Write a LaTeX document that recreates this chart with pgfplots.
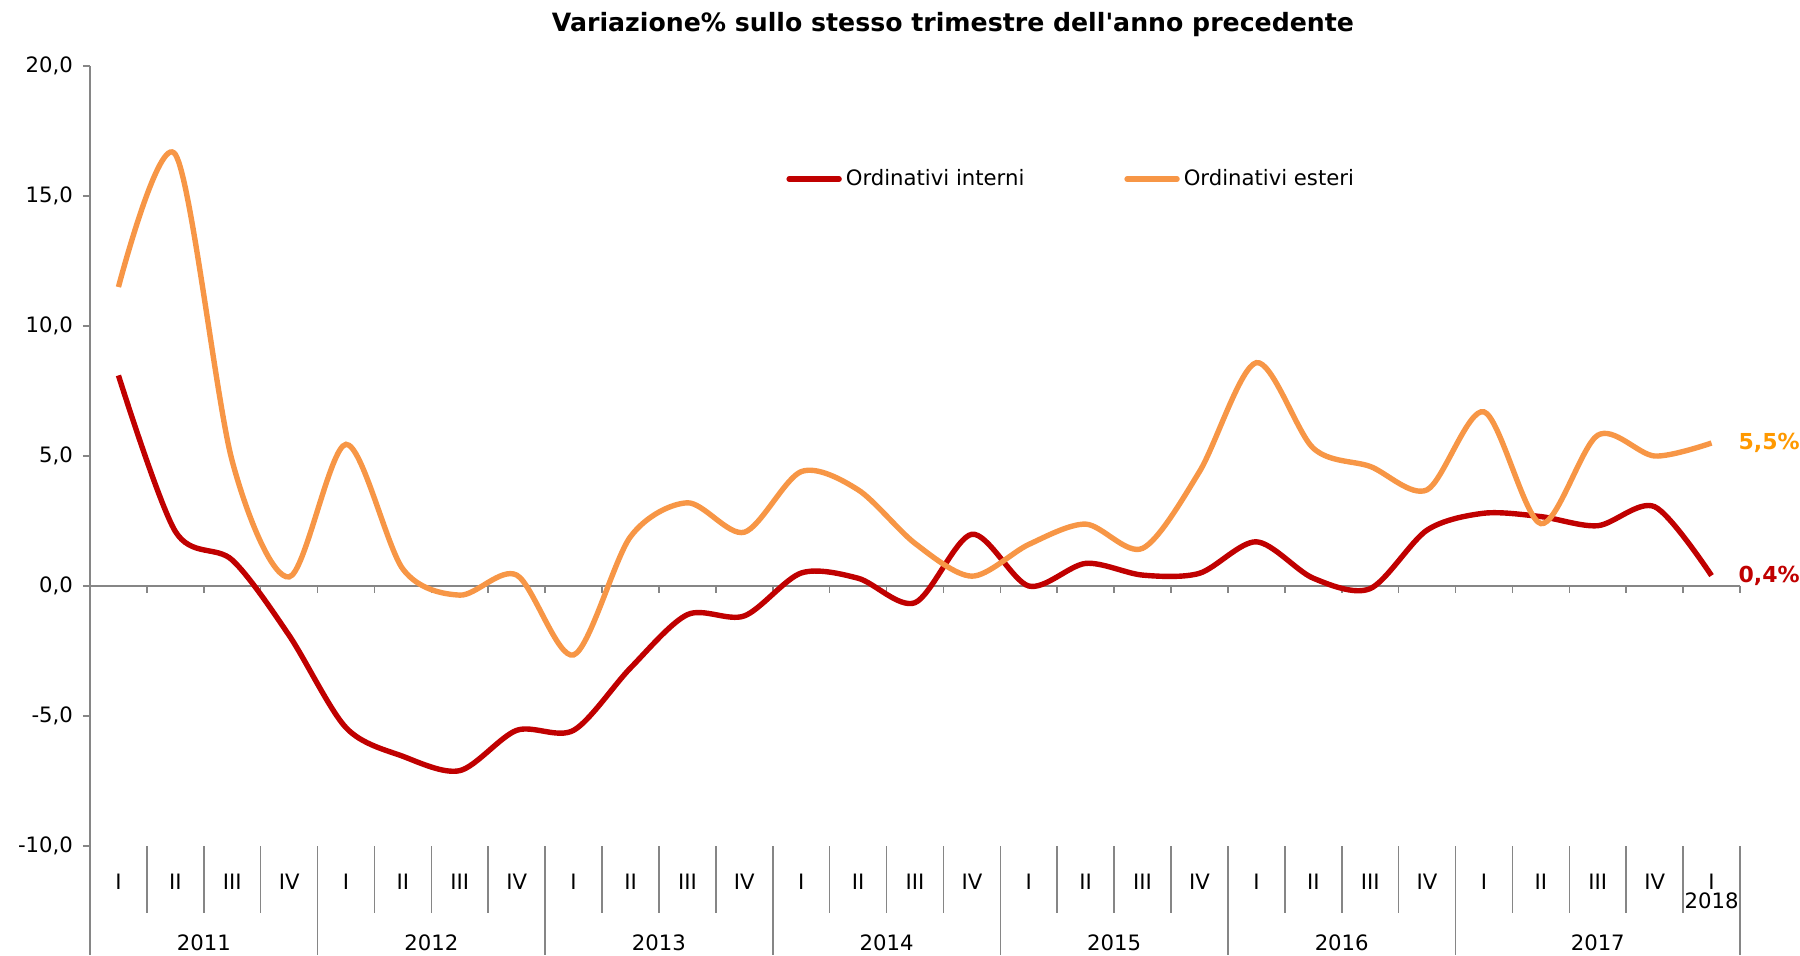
\documentclass[border=0pt]{standalone}
\usepackage{pgfplots}
\pgfplotsset{compat=1.18}
\usepackage{fontspec}
\setmainfont{DejaVu Sans}
\definecolor{rossoI}{HTML}{C00000}
\definecolor{aranE}{HTML}{F79646}
\definecolor{aranT}{HTML}{FF9900}
\definecolor{axgray}{HTML}{868686}
\newcommand{\lab}{\fontsize{10.6}{12}\selectfont}
\begin{document}
\begin{tikzpicture}
\path[use as bounding box] (0,0) rectangle (900pt,-477.5pt);
\node[font=\bfseries\fontsize{12.6}{15}\selectfont] at (476.5pt,-12.5pt) {Variazione\% sullo stesso trimestre dell\textquotesingle anno precedente};
\begin{axis}[
  at={(45pt,-423pt)}, anchor=south west,
  scale only axis, width=825pt, height=390pt,
  xmin=-0.5, xmax=28.5, ymin=-10, ymax=20,
  clip=false,
  axis y line*=left, axis x line*=bottom,
  x axis line style={draw=none},
  y axis line style={draw=axgray, line width=0.8pt},
  xtick={0,...,28},
  xticklabels={I,II,III,IV,I,II,III,IV,I,II,III,IV,I,II,III,IV,I,II,III,IV,I,II,III,IV,I,II,III,IV,I},
  xtick style={draw=none},
  xticklabel style={anchor=center, yshift=-14.5pt, font=\lab},
  ytick={-10,-5,...,20},
  tick align=outside, major tick length=3.5pt,
  ytick style={draw=axgray, line width=0.8pt},
  yticklabel style={font=\lab, anchor=east, xshift=-1.5pt},
  /pgf/number format/.cd, fixed, fixed zerofill, precision=1, use comma, assume math mode=true,
  /pgfplots/.cd,
  legend style={at={(0.4182,0.855)}, anchor=west, draw=none, fill=none, legend columns=2, font=\lab,
    /tikz/every even column/.append style={column sep=48pt}},
  legend image code/.code={\draw[#1, line cap=round] (0pt,0pt) -- (25pt,0pt);},
]
\draw[axgray, line width=0.8pt] (axis cs:-0.5,0) -- (axis cs:28.5,0);
\pgfplotsinvokeforeach{0.5,1.5,2.5,3.5,4.5,5.5,6.5,7.5,8.5,9.5,10.5,11.5,12.5,13.5,14.5,15.5,16.5,17.5,18.5,19.5,20.5,21.5,22.5,23.5,24.5,25.5,26.5,27.5,28.5}{
  \draw[axgray, line width=0.8pt] (axis cs:#1,0) -- ++(0pt,-3.5pt);
}
\pgfplotsinvokeforeach{0.5,1.5,2.5,4.5,5.5,6.5,8.5,9.5,10.5,12.5,13.5,14.5,16.5,17.5,18.5,20.5,21.5,22.5,24.5,25.5,26.5,27.5}{
  \draw[axgray, line width=0.8pt] (axis cs:#1,-10) -- ++(0pt,-33.5pt);
}
\pgfplotsinvokeforeach{-0.5,3.5,7.5,11.5,15.5,19.5,23.5,28.5}{
  \draw[axgray, line width=0.8pt] (axis cs:#1,-10) -- ++(0pt,-54.5pt);
}
\node[font=\lab] at (axis cs:1.5,-10) [yshift=-48.5pt] {2011};
\node[font=\lab] at (axis cs:5.5,-10) [yshift=-48.5pt] {2012};
\node[font=\lab] at (axis cs:9.5,-10) [yshift=-48.5pt] {2013};
\node[font=\lab] at (axis cs:13.5,-10) [yshift=-48.5pt] {2014};
\node[font=\lab] at (axis cs:17.5,-10) [yshift=-48.5pt] {2015};
\node[font=\lab] at (axis cs:21.5,-10) [yshift=-48.5pt] {2016};
\node[font=\lab] at (axis cs:26,-10) [yshift=-48.5pt] {2017};
\node[font=\lab] at (axis cs:28,-10) [yshift=-27.4pt] {2018};

\addplot[rossoI, line width=2.7pt, smooth, tension=0.5] coordinates {
(0,8.1) (1,2.1) (2,1.0) (3,-1.9) (4,-5.45) (5,-6.55) (6,-7.1) (7,-5.55) (8,-5.55)
(9,-3.15) (10,-1.1) (11,-1.15) (12,0.5) (13,0.3) (14,-0.64) (15,1.99) (16,0.0)
(17,0.87) (18,0.42) (19,0.49) (20,1.7) (21,0.3) (22,-0.1) (23,2.15) (24,2.8)
(25,2.67) (26,2.32) (27,3.05) (28,0.4)
};
\addlegendentry{Ordinativi interni}
\addplot[aranE, line width=2.7pt, smooth, tension=0.5] coordinates {
(0,11.5) (1,16.6) (2,4.8) (3,0.35) (4,5.45) (5,0.65) (6,-0.35) (7,0.42) (8,-2.65)
(9,1.9) (10,3.2) (11,2.07) (12,4.4) (13,3.7) (14,1.64) (15,0.38) (16,1.6)
(17,2.38) (18,1.45) (19,4.4) (20,8.59) (21,5.3) (22,4.6) (23,3.7) (24,6.7)
(25,2.4) (26,5.8) (27,5.0) (28,5.5)
};
\addlegendentry{Ordinativi esteri}
\node[anchor=west, text=aranT, font=\bfseries\fontsize{11}{13}\selectfont] at (axis cs:28,5.5) [xshift=10pt] {5,5\%};
\node[anchor=west, text=rossoI, font=\bfseries\fontsize{11}{13}\selectfont] at (axis cs:28,0.4) [xshift=10pt] {0,4\%};
\end{axis}
\end{tikzpicture}
\end{document}
